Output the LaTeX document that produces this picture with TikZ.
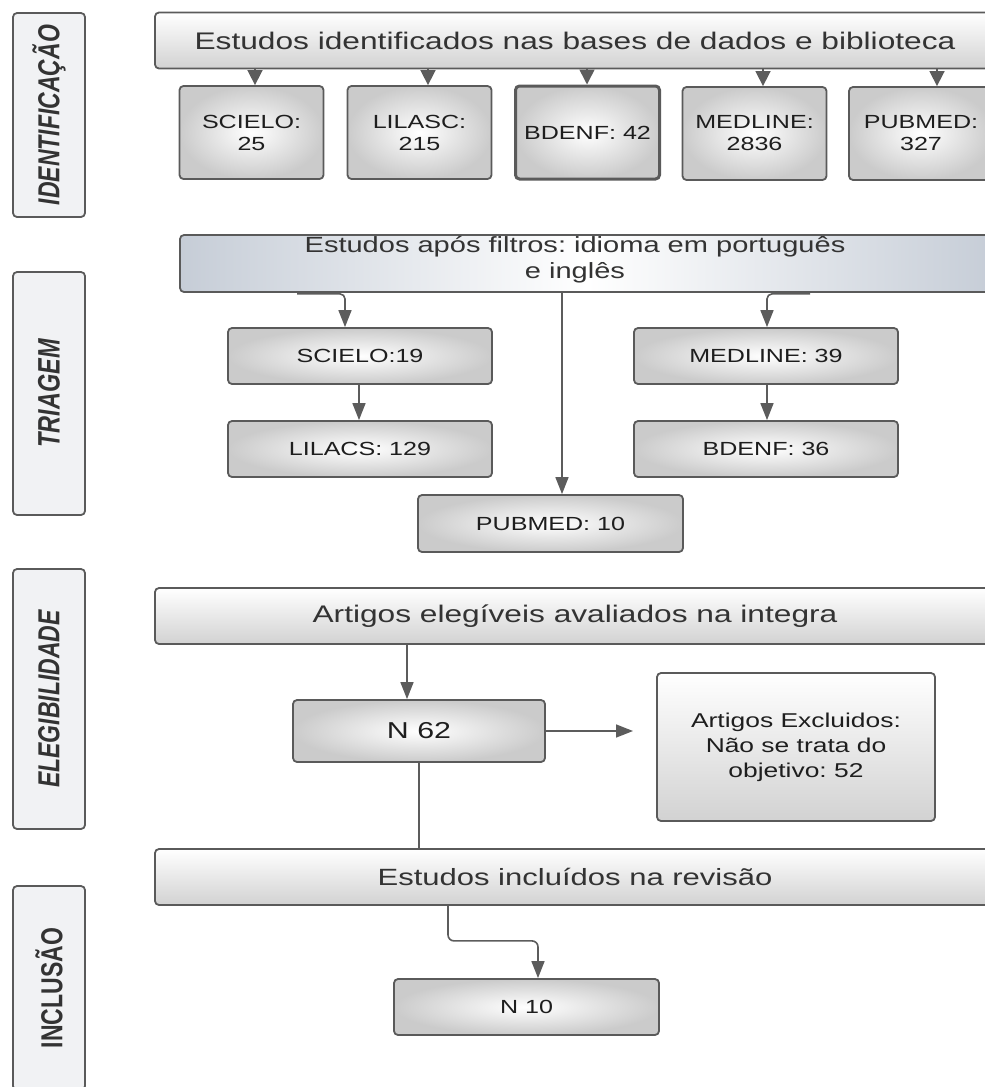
\documentclass[tikz,border=0pt]{standalone}
\usepackage{fontspec}
\setmainfont{Liberation Sans}
\usepackage{graphicx}
\usetikzlibrary{arrows.meta}
\frenchspacing
\definecolor{bord}{HTML}{5A5A5A}
\definecolor{arrc}{HTML}{5C5C5C}
\definecolor{txt}{HTML}{333333}
\definecolor{dark}{HTML}{1E1E1E}
\definecolor{labfill}{HTML}{F1F2F4}
\definecolor{gradgray}{HTML}{D2D2D2}
\definecolor{radgray}{HTML}{CBCBCB}
\definecolor{blueg}{HTML}{C6CDD7}
\newcommand{\hs}[1]{\scalebox{1.32}[1]{#1}}
\newcommand{\vlab}[1]{\scalebox{1.32}[1]{\rotatebox{90}{#1}}}
\tikzset{
  base/.style={draw=bord, line width=1.8pt, rounded corners=4pt, inner sep=0pt, align=center},
  lab/.style={base, fill=labfill, text=txt, minimum width=72pt},
  wide/.style={base, top color=white, bottom color=gradgray, text=txt, minimum width=840pt, minimum height=56pt},
  rad/.style={base, inner color=white, outer color=radgray, text=dark},
  subtop/.style={rad, minimum width=144pt, minimum height=93pt, font=\fontsize{19}{22}\selectfont},
  subtri/.style={rad, minimum width=264pt, minimum height=56pt, font=\fontsize{19}{22}\selectfont},
  arr/.style={draw=arrc, line width=1.6pt, -{Triangle[width=13pt,length=17pt]}},
  tarr/.style={draw=arrc, line width=1.6pt, -{Triangle[width=15pt,length=15pt]}},
  conn/.style={draw=arrc, line width=1.6pt}
}
\begin{document}
\begin{tikzpicture}[x=1pt,y=-1pt]
\useasboundingbox (0,0) rectangle (985,1087);

% left stage labels
\node[lab, minimum height=204pt, font=\fontsize{23}{26}\selectfont\bfseries\itshape] (idl) at (49,115) {\vlab{IDENTIFICAÇÃO}};
\node[lab, minimum height=243pt, font=\fontsize{23.5}{26}\selectfont\bfseries\itshape] (tril) at (49,393.5) {\vlab{TRIAGEM}};
\node[lab, minimum height=260pt, font=\fontsize{23}{26}\selectfont\bfseries\itshape] (elel) at (49,699) {\vlab{ELEGIBILIDADE}};
\node[lab, minimum height=204pt, font=\fontsize{23}{26}\selectfont\bfseries] (incl) at (49,988) {\vlab{INCLUSÃO}};

% identification
\node[wide, font=\fontsize{24}{28}\selectfont] (top) at (575,40.5) {\hs{Estudos identificados nas bases de dados e biblioteca}};
\node[subtop] (sc) at (251.5,132.5) {\hs{SCIELO:}\\\hs{25}};
\node[subtop] (li) at (419.5,132.5) {\hs{LILASC:}\\\hs{215}};
\node[subtop, line width=3pt] (bd) at (587.5,132.5) {\hs{BDENF: 42}};
\node[subtop] (me) at (754.5,133.5) {\hs{MEDLINE:}\\\hs{2836}};
\node[subtop] (pu) at (921,133.5) {\hs{PUBMED:}\\\hs{327}};

\draw[tarr] ([xshift=-320pt]top.south) -- ([xshift=3.5pt]sc.north);
\draw[tarr] ([xshift=-147pt]top.south) -- ([xshift=8.5pt]li.north);
\draw[tarr] ([xshift=12pt]top.south) -- ([xshift=-0.5pt]bd.north);
\draw[tarr] ([xshift=188pt]top.south) -- ([xshift=8.5pt]me.north);
\draw[tarr] ([xshift=362pt]top.south) -- ([xshift=16pt]pu.north);

% triage
\node[base, left color=blueg, right color=blueg, middle color=white, minimum width=814pt, minimum height=57pt] (tri) at (587,263.5) {};
\node[inner sep=0pt, align=center, text=txt, font=\fontsize{22}{26}\selectfont] (tritx) at (575,260) {\hs{Estudos após filtros: idioma em português}\\\hs{e inglês}};

\node[subtri] (sc19) at (360,356) {\hs{SCIELO:19}};
\node[subtri] (li129) at (360,449) {\hs{LILACS: 129}};
\node[subtri] (me39) at (766,356) {\hs{MEDLINE: 39}};
\node[subtri] (bd36) at (766,449) {\hs{BDENF: 36}};
\node[subtri, minimum width=265pt, minimum height=57pt] (pu10) at (550.5,523.5) {\hs{PUBMED: 10}};

\draw[arr, rounded corners=5pt] ([xshift=-290pt,yshift=-1pt]tri.south) -- ([xshift=-242pt,yshift=-1pt]tri.south) -- ([xshift=-15pt]sc19.north);
\draw[arr] ([xshift=-25pt]tri.south) -- ([xshift=11.5pt]pu10.north);
\draw[arr, rounded corners=5pt] ([xshift=223pt,yshift=-1pt]tri.south) -- ([xshift=180pt,yshift=-1pt]tri.south) -- ([xshift=1pt]me39.north);
\draw[arr] ([xshift=-1pt]sc19.south) -- ([xshift=-1pt]li129.north);
\draw[arr] ([xshift=1pt]me39.south) -- ([xshift=1pt]bd36.north);

% eligibility
\node[wide, font=\fontsize{24}{28}\selectfont] (art) at (575,616) {\hs{Artigos elegíveis avaliados na integra}};
\node[rad, minimum width=252pt, minimum height=62pt, font=\fontsize{23}{26}\selectfont] (n62) at (419,731) {\hs{N 62}};
\node[base, top color=white, bottom color=gradgray, text=dark, minimum width=278pt, minimum height=148pt, font=\fontsize{20}{25}\selectfont] (exc) at (796,747) {\hs{Artigos Excluidos:}\\\hs{Não se trata do}\\\hs{objetivo: 52}};
\coordinate (excend) at (633,731);

\draw[arr] ([xshift=-168pt]art.south) -- ([xshift=-12pt]n62.north);
\draw[arr] (n62.east) -- (excend);

% inclusion
\node[wide, font=\fontsize{23.5}{27}\selectfont] (inc) at (575,877) {\hs{Estudos incluídos na revisão}};
\node[rad, minimum width=265pt, minimum height=56pt, font=\fontsize{19}{22}\selectfont] (n10) at (526.5,1007) {\hs{N 10}};

\draw[conn] (n62.south) -- (n62.south |- inc.north);
\draw[arr, rounded corners=6pt] ([xshift=-127pt]inc.south) -- ++(0,35) -- ++(90,0) -- ([xshift=11.5pt]n10.north);
\end{tikzpicture}
\end{document}
